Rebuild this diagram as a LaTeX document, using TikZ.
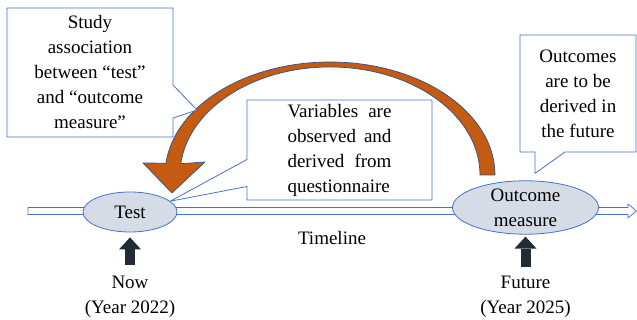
\documentclass[tikz,border=0pt]{standalone}
\usepackage{fontspec}
\setmainfont{Liberation Serif}
\usetikzlibrary{arrows.meta,shapes.geometric,shapes.callouts}
\definecolor{boxblue}{RGB}{68,114,196}
\definecolor{ellfill}{RGB}{214,220,229}
\definecolor{arcorange}{RGB}{197,90,17}
\definecolor{arcline}{RGB}{47,82,143}
\definecolor{darknavy}{RGB}{34,42,53}

\begin{document}
\begin{tikzpicture}[x=1pt,y=1pt,line join=round,
  every node/.style={font=\fontsize{19}{25}\selectfont},
  bubble/.style={rectangle callout,draw=boxblue,fill=white,line width=0.8pt,inner sep=0pt},
  stage/.style={ellipse,draw=boxblue,fill=ellfill,line width=0.8pt,inner sep=0pt,align=center},
  uparrow/.style={darknavy,line width=10pt,-{Triangle[length=12pt,width=22pt,line width=0pt]}},
  lbl/.style={align=center,inner sep=0pt}]
\useasboundingbox (0,0) rectangle (637,320);
% timeline
\filldraw[draw=boxblue,fill=white,line width=0.7pt] (28,105.5) -- (628,105.5) -- (628,102) -- (636.5,109)
  -- (628,116) -- (628,112.5) -- (28,112.5) -- cycle;
\node[stage,minimum width=94pt,minimum height=40pt] (test) at (130,108) {Test};
\node[stage,minimum width=146pt,minimum height=51pt] (outcome) at (525.5,112.5) {Outcome\\measure};
% curved arrow from outcome back to test
\filldraw[fill=arcorange,draw=arcline,line width=0.7pt] (495,145)
  arc[start angle=0,end angle=174,x radius=165,y radius=113] -- (143,157) -- (172,127) -- (205,158)
  -- (180.8,156.3) arc[start angle=174,end angle=0,x radius=150,y radius=108] -- cycle;
\coordinate (arcpt) at (197,210);
\node[bubble,minimum width=166pt,minimum height=129pt,align=center,
  callout absolute pointer={(arcpt)},callout pointer width=33pt] (study) at (90,247.5)
  {Study\\association\\between “test”\\and “outcome\\measure”};
\node[bubble,minimum width=185pt,minimum height=100pt,text width=104pt,align=justify,
  callout absolute pointer={(test.15)},callout pointer width=27pt] (vars) at (339.5,170)
  {Variables are\linebreak observed and\linebreak derived from\linebreak questionnaire};
\node[bubble,minimum width=116pt,minimum height=117pt,align=center,
  callout absolute pointer={([xshift=9.5pt,yshift=7pt]outcome.north)},callout pointer width=30pt] (future note) at (578,226.5)
  {Outcomes\\are to be\\derived in\\the future};
\node[lbl] (timeline) at (332,82) {Timeline};
\node[lbl] (now) at (130,23) {Now\\(Year 2022)};
\node[lbl] (future) at (525.5,23) {Future\\(Year 2025)};
\draw[uparrow] ([yshift=11.5pt]now.north) -- ([yshift=-5pt]test.south);
\draw[uparrow] ([yshift=9.5pt]future.north) -- ([yshift=-2pt]outcome.south);
\end{tikzpicture}
\end{document}
